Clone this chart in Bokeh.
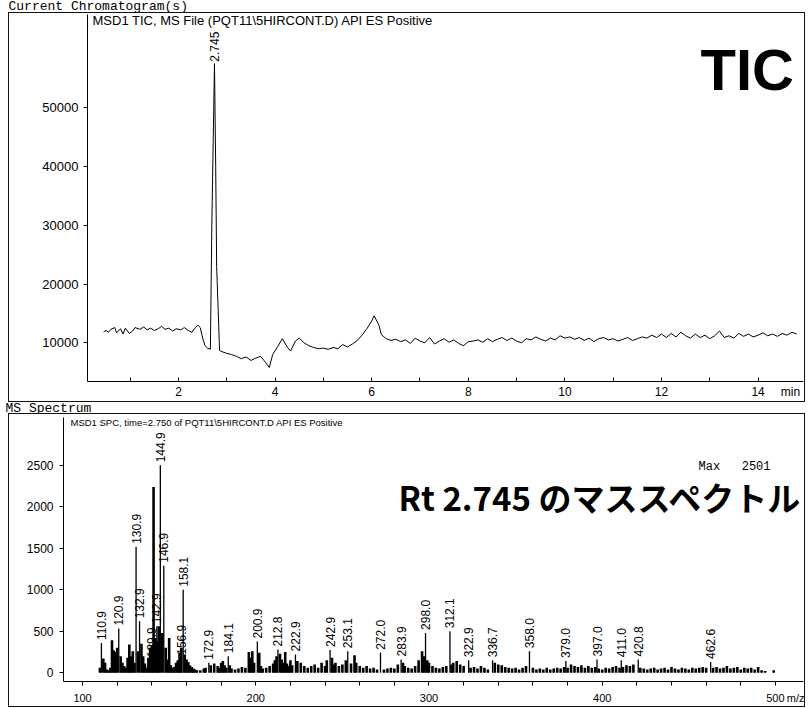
import math
from bokeh.plotting import figure
from bokeh.models import Range1d, FixedTicker, Label
from bokeh.embed import file_html
from bokeh.resources import INLINE
from bokeh.core.properties import value

# ---------------- TIC data (time in min, intensity) ----------------
tic_time = [
    0.45, 0.50, 0.55, 0.60, 0.68, 0.72, 0.80, 0.85, 0.90, 0.98,
    1.05, 1.10, 1.20, 1.28, 1.35, 1.42, 1.50, 1.58, 1.65, 1.72,
    1.80, 1.88, 1.95, 2.05, 2.12, 2.20, 2.28, 2.35, 2.40, 2.45,
    2.50, 2.55, 2.60, 2.66, 2.69, 2.72, 2.745, 2.77, 2.79, 2.82,
    2.85, 2.90, 3.00, 3.10, 3.20, 3.30, 3.40, 3.50, 3.60, 3.70,
    3.80, 3.88, 3.95, 4.05, 4.15, 4.25, 4.32, 4.42, 4.50, 4.60,
    4.70, 4.80, 4.90, 5.00, 5.10, 5.20, 5.30, 5.40, 5.50, 5.60,
    5.70, 5.80, 5.90, 6.00, 6.05, 6.15, 6.20, 6.30, 6.40, 6.50,
    6.60, 6.70, 6.80, 6.90, 7.00, 7.10, 7.20, 7.30, 7.40, 7.50,
    7.60, 7.70, 7.80, 7.90, 8.00, 8.10, 8.20, 8.30, 8.40, 8.50,
    8.60, 8.70, 8.80, 8.90, 9.00, 9.10, 9.20, 9.30, 9.40, 9.50,
    9.60, 9.70, 9.80, 9.90, 10.00, 10.10, 10.20, 10.30, 10.40, 10.50,
    10.60, 10.70, 10.80, 10.90, 11.00, 11.10, 11.20, 11.30, 11.40, 11.50,
    11.60, 11.70, 11.80, 11.90, 12.00, 12.10, 12.20, 12.30, 12.40, 12.50,
    12.60, 12.70, 12.80, 12.90, 13.00, 13.10, 13.20, 13.30, 13.40, 13.50,
    13.60, 13.70, 13.80, 13.90, 14.00, 14.10, 14.20, 14.30, 14.40, 14.50,
    14.60, 14.70, 14.80,
]
tic_intensity = [
    11900, 12100, 11800, 12300, 12600, 11700, 12400, 11500, 12500, 11600,
    12000, 12600, 12300, 12700, 12200, 12500, 12100, 12400, 12800, 12300,
    12500, 12000, 12400, 12200, 12600, 12100, 11800, 12600, 13000, 12600,
    10800, 9500, 9100, 8900, 30000, 45000, 57500, 40000, 23000, 16000,
    8700, 8500, 8200, 8000, 7700, 7300, 7600, 7000, 7400, 7700,
    6700, 5800, 8000, 9300, 10700, 9300, 8600, 10300, 10800, 10000,
    9500, 9200, 9000, 9100, 8900, 9200, 9000, 9700, 9300, 9800,
    10400, 11300, 12400, 13700, 14600, 13000, 11400, 10700, 10400, 10600,
    10200, 10500, 9900, 10800, 10300, 10000, 10900, 9800, 10300, 10700,
    10100, 10500, 9900, 9500, 10200, 10300, 10500, 10100, 10700, 10200,
    10600, 10900, 10400, 10800, 10300, 10000, 10700, 10500, 11000, 10600,
    10300, 10800, 10500, 11200, 10800, 11000, 10600, 10900, 10400, 10800,
    10200, 10700, 10900, 10500, 10700, 10300, 10600, 10900, 10400, 10700,
    11000, 10800, 11300, 10900, 11500, 10900, 11600, 11000, 11800, 11200,
    10800, 11500, 10900, 11300, 10700, 11200, 12000, 10900, 11200, 10800,
    11600, 11100, 11500, 11000, 11300, 11700, 11200, 11500, 11100, 11600,
    11300, 11800, 11500,
]
tic_peak_time = [2.745]
tic_peak_value = [57500]
tic_peak_label = ["2.745"]
tic_x_ticks = [2, 4, 6, 8, 10, 12, 14]
tic_x_minor = list(range(1, 15))
tic_y_ticks = [10000, 20000, 30000, 40000, 50000]
tic_unit_label = "min"

# ---------------- MS spectrum data (m/z, abundance) ----------------
peak_mz = [110.9, 120.9, 130.9, 132.9, 139.9, 142.9, 144.9, 146.9, 156.9, 158.1,
           172.9, 184.1, 200.9, 212.8, 222.9, 242.9, 253.1, 272.0, 283.9, 298.0,
           312.1, 322.9, 336.7, 358.0, 379.0, 397.0, 411.0, 420.8, 462.6]
peak_abund = [357, 533, 1518, 620, 150, 560, 2501, 1290, 180, 1000,
              120, 200, 376, 280, 220, 275, 260, 240, 160, 480,
              500, 150, 150, 260, 140, 160, 150, 160, 130]
peak_label = ["%.1f" % m for m in peak_mz]

grass_mz = [
    110, 112, 113, 114, 115, 116, 117, 118, 119, 120,
    122, 123, 124, 125, 126, 127, 128, 129, 130, 132,
    134, 135, 136, 137, 138, 139, 140, 141, 142, 143,
    144, 146, 148, 149, 150, 151, 152, 153, 154, 155,
    156, 157, 159, 160, 161, 162, 163, 164, 165, 166,
    168, 170, 171, 174, 176, 178, 179, 180, 181, 182,
    183, 185, 186, 188, 190, 192, 194, 196, 197, 198,
    199, 202, 203, 204, 206, 208, 210, 211, 212, 214,
    215, 216, 217, 218, 219, 220, 221, 224, 226, 228,
    230, 232, 234, 236, 238, 240, 241, 244, 245, 246,
    248, 250, 252, 255, 257, 258, 260, 262, 264, 266,
    268, 270, 274, 276, 278, 280, 282, 285, 286, 288,
    290, 292, 294, 296, 297, 299, 300, 302, 304, 306,
    308, 310, 313, 314, 316, 318, 320, 324, 326, 328,
    330, 332, 334, 338, 340, 342, 344, 346, 348, 350,
    352, 354, 356, 360, 362, 364, 366, 368, 370, 372,
    374, 376, 378, 380, 382, 384, 386, 388, 390, 392,
    394, 396, 398, 400, 402, 404, 406, 408, 410, 412,
    414, 416, 418, 422, 424, 426, 428, 430, 432, 434,
    436, 438, 440, 442, 444, 446, 448, 450, 452, 454,
    456, 458, 460, 464, 466, 468, 470, 472, 474, 476,
    478, 480, 482, 484, 486, 488, 490, 492, 494, 499,
]
grass_abund = [
    60, 170, 120, 40, 30, 60, 390, 270, 250, 300,
    200, 120, 80, 60, 180, 340, 200, 260, 120, 260,
    350, 200, 110, 60, 180, 300, 330, 2240, 420, 380,
    560, 480, 300, 160, 420, 90, 60, 70, 120, 150,
    240, 300, 220, 160, 130, 90, 70, 50, 40, 30,
    30, 50, 60, 90, 110, 80, 60, 120, 140, 90,
    60, 90, 50, 40, 50, 70, 60, 250, 180, 260,
    120, 240, 80, 50, 60, 80, 110, 150, 200, 230,
    160, 120, 250, 110, 80, 150, 90, 140, 120, 80,
    60, 80, 100, 60, 120, 80, 150, 180, 100, 120,
    80, 100, 150, 110, 210, 120, 80, 60, 80, 50,
    60, 40, 40, 50, 60, 50, 100, 120, 80, 60,
    50, 80, 150, 260, 200, 150, 120, 80, 60, 50,
    70, 80, 100, 120, 140, 100, 80, 60, 70, 50,
    80, 60, 40, 120, 100, 90, 70, 60, 50, 60,
    40, 60, 80, 60, 40, 50, 40, 60, 40, 50,
    60, 50, 70, 60, 100, 80, 70, 90, 60, 80,
    60, 70, 50, 40, 60, 50, 70, 80, 60, 70,
    90, 80, 100, 60, 50, 40, 50, 60, 40, 50,
    60, 40, 70, 50, 40, 60, 50, 40, 60, 50,
    60, 70, 60, 60, 70, 50, 60, 80, 50, 60,
    70, 40, 60, 50, 60, 40, 70, 30, 20, 30,
]
ms_x_ticks = [100, 200, 300, 400, 500]
ms_x_minor = list(range(100, 501, 20))
ms_y_ticks = [0, 500, 1000, 1500, 2000, 2500]
ms_unit_label = "m/z"
max_abundance = max(peak_abund)

SANS = "Liberation Sans"
MONO = "Liberation Mono"
NBSP = "\u00a0"
BOX = {"outline": "1px solid #111", "margin-left": "9px"}


def style_axes(p, size):
    for ax in (p.xaxis[0], p.yaxis[0]):
        ax.axis_line_color = "black"
        ax.major_tick_line_color = "black"
        ax.minor_tick_line_color = "black"
        ax.major_label_text_font = SANS
        ax.major_label_text_font_size = size
        ax.major_label_text_color = "black"
    p.xgrid.visible = False
    p.ygrid.visible = False
    p.outline_line_color = None
    p.background_fill_color = "white"
    p.border_fill_color = "white"


def header(text, height, x, y, size):
    h = figure(width=808, height=height, x_range=Range1d(0, 808), y_range=Range1d(0, height),
               output_backend="svg", toolbar_location=None, title=None,
               x_axis_location=None, y_axis_location=None, min_border=0)
    h.outline_line_color = None
    h.background_fill_color = None
    h.border_fill_color = None
    h.xgrid.visible = False
    h.ygrid.visible = False
    h.add_layout(Label(x=x, y=y, text=text, text_font=MONO, text_font_size=size,
                       text_color="black", text_baseline="middle"))
    return h


# ---------------- Top: TIC ----------------
h1 = header("Current Chromatogram(s)", 13, 8, 7, "13px")

p1 = figure(width=795, height=388, x_range=Range1d(0.116, 14.94), y_range=Range1d(3420, 65860),
            output_backend="svg", toolbar_location=None, title=None, styles=BOX,
            min_border_left=78, min_border_right=1, min_border_top=1, min_border_bottom=17)
style_axes(p1, "12px")
p1.yaxis.major_label_text_font_size = "13px"
p1.line(tic_time, tic_intensity, line_color="black", line_width=1)
p1.text(x=tic_peak_time, y=tic_peak_value, text=tic_peak_label, angle=math.pi / 2,
        text_align="left", text_baseline="middle", y_offset=-2,
        text_font=value(SANS), text_font_size="12px", text_color="black")
unit_x1 = 14.67
p1.xaxis.ticker = FixedTicker(ticks=tic_x_ticks + [unit_x1], minor_ticks=tic_x_minor)
p1.xaxis.major_label_overrides = {unit_x1: tic_unit_label}
p1.xaxis.major_tick_in = 0
p1.xaxis.major_tick_out = 0
p1.xaxis.minor_tick_in = 4
p1.xaxis.minor_tick_out = 0
p1.xaxis.major_label_standoff = 3
p1.yaxis.ticker = FixedTicker(ticks=tic_y_ticks, minor_ticks=[])
p1.yaxis.major_tick_out = 4
p1.yaxis.major_tick_in = 0
p1.yaxis.major_label_standoff = 5

p1.add_layout(Label(x=83, y=7, x_units="canvas", y_units="canvas",
                    text="MSD1 TIC, MS File (PQT11\\5HIRCONT.D) API ES Positive",
                    text_font=SANS, text_font_size="13px", text_color="black",
                    text_baseline="middle"))
p1.add_layout(Label(x=691, y=56, x_units="canvas", y_units="canvas", text="TIC",
                    text_font=SANS, text_font_style="bold", text_font_size="58px",
                    text_color="black", text_baseline="alphabetic"))

# ---------------- Bottom: MS spectrum ----------------
h2 = header("MS Spectrum", 13, 5, 6.5, "13px")

p2 = figure(width=795, height=292, x_range=Range1d(89.0, 516.2), y_range=Range1d(-106, 3078),
            output_backend="svg", toolbar_location=None, title=None, styles=BOX,
            min_border_left=54, min_border_right=1, min_border_top=3, min_border_bottom=19)
style_axes(p2, "12px")
p2.xaxis.major_label_text_font_size = "11px"
p2.vbar(x=grass_mz, top=grass_abund, bottom=0, width=1.5, fill_color="black", line_color=None)
p2.segment(x0=peak_mz, y0=[0] * len(peak_mz), x1=peak_mz, y1=peak_abund,
           line_color="black", line_width=1.3)
p2.text(x=peak_mz, y=peak_abund, text=peak_label, angle=math.pi / 2,
        text_align="left", text_baseline="middle", y_offset=-3,
        text_font=value(SANS), text_font_size="12px", text_color="black")
unit_x2 = 512.3
p2.xaxis.ticker = FixedTicker(ticks=ms_x_ticks + [unit_x2], minor_ticks=ms_x_minor)
p2.xaxis.major_label_overrides = {unit_x2: ms_unit_label}
p2.xaxis.major_tick_out = 0
p2.xaxis.major_tick_in = 0
p2.xaxis.minor_tick_out = 4
p2.xaxis.minor_tick_in = 0
p2.xaxis.major_label_standoff = 6
p2.yaxis.ticker = FixedTicker(ticks=ms_y_ticks, minor_ticks=[])
p2.yaxis.major_tick_out = 4
p2.yaxis.major_tick_in = 0
p2.yaxis.major_label_standoff = 6

p2.add_layout(Label(x=61, y=8, x_units="canvas", y_units="canvas",
                    text="MSD1 SPC, time=2.750 of PQT11\\5HIRCONT.D  API ES Positive",
                    text_font=SANS, text_font_size="9.5px", text_color="black",
                    text_baseline="middle"))
p2.add_layout(Label(x=689, y=52, x_units="canvas", y_units="canvas",
                    text="Max" + NBSP * 3 + "%d" % max_abundance,
                    text_font=MONO, text_font_size="12px", text_color="black",
                    text_baseline="middle"))
p2.add_layout(Label(x=389, y=82, x_units="canvas", y_units="canvas",
                    text="Rt 2.745 のマススペクトル",
                    text_font="Noto Sans CJK JP", text_font_style="bold", text_font_size="33px",
                    text_color="black", text_baseline="alphabetic"))

p = [h1, p1, h2, p2]
open("out.html", "w").write(file_html(p, INLINE))
